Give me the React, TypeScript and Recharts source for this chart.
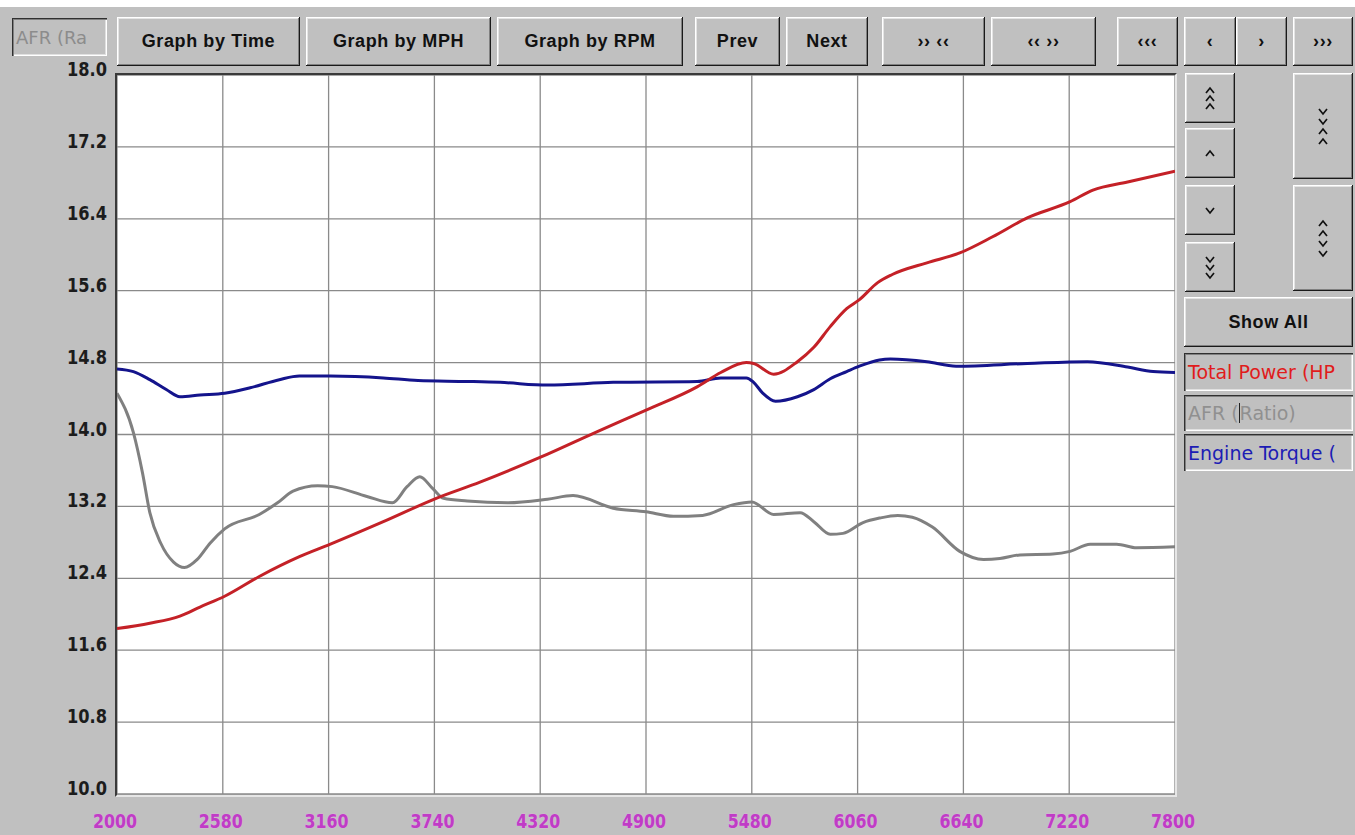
import React from 'react';
import { LineChart, Line, XAxis, YAxis, CartesianGrid } from 'recharts';

// ---- tick labels ----
const xTicks = [2000, 2580, 3160, 3740, 4320, 4900, 5480, 6060, 6640, 7220, 7800];
const yTicks = [10, 10.8, 11.6, 12.4, 13.2, 14, 14.8, 15.6, 16.4, 17.2, 18];

// ---- Total Power (HP) ----
const powerRpm = [2000, 2180, 2345, 2455, 2590, 2780, 3000, 3170, 3460, 3750, 3990, 4325, 4630, 4910, 5180, 5310, 5450, 5490, 5600, 5730, 5820, 5910, 6000, 6070, 6170, 6250, 6440, 6620, 6800, 6990, 7225, 7350, 7540, 7800];
const powerVal = [11.84, 11.9, 11.98, 12.08, 12.2, 12.42, 12.64, 12.78, 13.03, 13.29, 13.47, 13.75, 14.03, 14.28, 14.53, 14.69, 14.8, 14.79, 14.67, 14.81, 14.97, 15.2, 15.4, 15.5, 15.69, 15.78, 15.91, 16.02, 16.2, 16.41, 16.59, 16.72, 16.81, 16.93];

// ---- AFR (Ratio) ----
const afrRpm = [2000, 2090, 2140, 2180, 2240, 2310, 2370, 2440, 2510, 2590, 2780, 2880, 2965, 3100, 3180, 3370, 3510, 3590, 3660, 3730, 3790, 3920, 4140, 4360, 4500, 4720, 4900, 5050, 5210, 5380, 5480, 5600, 5745, 5820, 5910, 5980, 6090, 6180, 6280, 6360, 6470, 6620, 6750, 6840, 6950, 7130, 7225, 7335, 7480, 7590, 7800];
const afrVal = [14.46, 14.02, 13.57, 13.13, 12.79, 12.58, 12.52, 12.61, 12.79, 12.95, 13.11, 13.24, 13.37, 13.43, 13.42, 13.31, 13.24, 13.42, 13.53, 13.4, 13.29, 13.26, 13.24, 13.28, 13.32, 13.18, 13.14, 13.09, 13.1, 13.22, 13.25, 13.11, 13.13, 13.03, 12.89, 12.9, 13.02, 13.07, 13.1, 13.08, 12.97, 12.7, 12.61, 12.62, 12.66, 12.67, 12.7, 12.78, 12.78, 12.74, 12.75];

// ---- Engine Torque ----
const torqueRpm = [2000, 2090, 2180, 2270, 2345, 2455, 2590, 2730, 2890, 3000, 3170, 3460, 3650, 3920, 4100, 4360, 4720, 5180, 5310, 5450, 5490, 5540, 5610, 5730, 5820, 5910, 6000, 6070, 6180, 6240, 6440, 6600, 6990, 7320, 7540, 7680, 7800];
const torqueVal = [14.73, 14.7, 14.61, 14.5, 14.42, 14.44, 14.46, 14.52, 14.61, 14.65, 14.65, 14.63, 14.6, 14.59, 14.58, 14.55, 14.58, 14.59, 14.63, 14.63, 14.58, 14.46, 14.37, 14.42, 14.5, 14.62, 14.7, 14.76, 14.83, 14.84, 14.81, 14.76, 14.79, 14.81, 14.75, 14.7, 14.69];

const toSeries = (xs: number[], ys: number[]) => xs.map((rpm, i) => ({ rpm, v: ys[i] }));
const powerData = toSeries(powerRpm, powerVal);
const afrData = toSeries(afrRpm, afrVal);
const torqueData = toSeries(torqueRpm, torqueVal);

const BG = '#c0c0c0';
const UI_FONT = "'Liberation Sans', Arial, sans-serif";
const FIELD_FONT = "'DejaVu Sans', 'Liberation Sans', sans-serif";
const AXIS_FONT = "'DejaVu Sans', 'Liberation Sans', sans-serif";

const raised = 'inset -1px -1px 0 #1a1a1a, inset 1px 1px 0 #ffffff, inset -2px -2px 0 #808080, inset 2px 2px 0 #e4e4e4';
const sunken = 'inset 1px 1px 0 #303030, inset 2px 2px 0 #808080, inset -1px -1px 0 #ffffff, inset -2px -2px 0 #e0e0e0';

function Btn({ x, y, w, h, children, size = 18 }: any) {
  return (
    <div style={{
      position: 'absolute', left: x, top: y, width: w, height: h, background: BG, boxShadow: raised,
      display: 'flex', alignItems: 'center', justifyContent: 'center', fontFamily: UI_FONT,
      fontWeight: 'bold', fontSize: size, color: '#111', letterSpacing: 0.6, whiteSpace: 'nowrap', boxSizing: 'border-box'
    }}>{children}</div>
  );
}

function Field({ x, y, w, h, color, children, size = 19 }: any) {
  return (
    <div style={{
      position: 'absolute', left: x, top: y, width: w, height: h, background: BG, boxShadow: sunken,
      display: 'flex', alignItems: 'center', paddingLeft: 4, fontFamily: FIELD_FONT, fontSize: size, color,
      whiteSpace: 'nowrap', overflow: 'hidden', boxSizing: 'border-box'
    }}>{children}</div>
  );
}

function Chevrons({ dirs, gap = 9 }: { dirs: string[]; gap?: number }) {
  const h = (dirs.length - 1) * gap + 9;
  return (
    <svg width={12} height={h}>
      {dirs.map((d, i) => {
        const y0 = 2 + i * gap;
        const pts = d === 'u' ? `2,${y0 + 5} 6,${y0} 10,${y0 + 5}` : `2,${y0} 6,${y0 + 5} 10,${y0}`;
        return <polyline key={i} points={pts} fill="none" stroke="#111" strokeWidth={1.7} />;
      })}
    </svg>
  );
}

const YTick = (props: any) => (
  <text x={107} y={props.y - 6} textAnchor="end" dominantBaseline="central" textLength={40} lengthAdjust="spacingAndGlyphs"
    style={{ fontFamily: AXIS_FONT, fontWeight: 'bold', fontSize: 19, fill: '#1c1c1c' }}>
    {Number(props.payload.value).toFixed(1)}
  </text>
);

const XTick = (props: any) => (
  <text x={props.x - 2} y={821} textAnchor="middle" dominantBaseline="central" textLength={44} lengthAdjust="spacingAndGlyphs"
    style={{ fontFamily: AXIS_FONT, fontWeight: 'bold', fontSize: 20, fill: '#c03cc6', stroke: '#eaa6ea', strokeWidth: 0.6, paintOrder: 'stroke' }}>
    {props.payload.value}
  </text>
);

export default function App() {
  return (
    <div style={{ position: 'absolute', left: 0, top: 0, width: 1355, height: 835, background: BG, overflow: 'hidden' }}>
      <div style={{ position: 'absolute', left: 0, top: 0, width: 1355, height: 7, background: '#ffffff' }} />

      {/* top row */}
      <Field x={12} y={18} w={95} h={38} color="#8c8c8c" size={18}>AFR (Ra</Field>
      <Btn x={117} y={17} w={183} h={49}>Graph by Time</Btn>
      <Btn x={306} y={17} w={185} h={49}>Graph by MPH</Btn>
      <Btn x={497} y={17} w={186} h={49}>Graph by RPM</Btn>
      <Btn x={695} y={17} w={85} h={49}>Prev</Btn>
      <Btn x={786} y={17} w={82} h={49}>Next</Btn>
      <Btn x={882} y={17} w={103} h={49}>{'›› ‹‹'}</Btn>
      <Btn x={991} y={17} w={105} h={49}>{'‹‹ ››'}</Btn>
      <Btn x={1117} y={17} w={61} h={49}>{'‹‹‹'}</Btn>
      <Btn x={1184} y={17} w={52} h={49}>{'‹'}</Btn>
      <Btn x={1236} y={17} w={51} h={49}>{'›'}</Btn>
      <Btn x={1293} y={17} w={60} h={49}>{'›››'}</Btn>

      {/* right panel */}
      <Btn x={1185} y={73} w={50} h={50}><Chevrons dirs={['u', 'u', 'u']} gap={8} /></Btn>
      <Btn x={1185} y={128} w={50} h={50}><Chevrons dirs={['u']} /></Btn>
      <Btn x={1185} y={185} w={50} h={50}><Chevrons dirs={['d']} /></Btn>
      <Btn x={1185} y={242} w={50} h={50}><Chevrons dirs={['d', 'd', 'd']} gap={8} /></Btn>
      <Btn x={1293} y={73} w={60} h={106}><Chevrons dirs={['d', 'd', 'u', 'u']} gap={10} /></Btn>
      <Btn x={1293} y={185} w={60} h={106}><Chevrons dirs={['u', 'u', 'd', 'd']} gap={10} /></Btn>
      <Btn x={1184} y={297} w={169} h={50}>Show All</Btn>
      <Field x={1184} y={353} w={169} h={38} color="#e01c1c">Total Power (HP</Field>
      <Field x={1184} y={395} w={169} h={36} color="#909090">
        AFR (<span style={{ display: 'inline-block', width: 0, height: 20, borderLeft: '1.5px solid #222', verticalAlign: 'middle' }} />Ratio)
      </Field>
      <Field x={1184} y={434} w={169} h={37} color="#1c1cb4">Engine Torque (</Field>

      <div style={{ position: 'absolute', left: 0, top: 0 }}>
        <LineChart width={1355} height={835} margin={{ top: 75, right: 180, bottom: 0, left: 0 }}>
          <CartesianGrid stroke="#8a8a8a" strokeWidth={1.3} fill="#ffffff" horizontalValues={yTicks} verticalValues={xTicks} />
          <XAxis dataKey="rpm" type="number" domain={[2000, 7800]} ticks={xTicks} height={41}
            axisLine={false} tickLine={false} tick={<XTick />} allowDataOverflow interval={0} />
          <YAxis type="number" domain={[10, 18]} ticks={yTicks} width={117}
            axisLine={false} tickLine={false} tick={<YTick />} allowDataOverflow interval={0} />
          <Line data={afrData} dataKey="v" type="monotone" stroke="#808080" strokeWidth={3} dot={false} isAnimationActive={false} />
          <Line data={torqueData} dataKey="v" type="monotone" stroke="#14148c" strokeWidth={3} dot={false} isAnimationActive={false} />
          <Line data={powerData} dataKey="v" type="monotone" stroke="#c42127" strokeWidth={3} dot={false} isAnimationActive={false} />
        </LineChart>
      </div>

      {/* sunken plot frame */}
      <div style={{
        position: 'absolute', left: 115, top: 73, width: 1062, height: 724, boxSizing: 'border-box', pointerEvents: 'none',
        borderTop: '2px solid #3a3a3a', borderLeft: '2px solid #3a3a3a', borderRight: '2px solid #e6e6e6', borderBottom: '2px solid #e6e6e6'
      }} />
    </div>
  );
}
